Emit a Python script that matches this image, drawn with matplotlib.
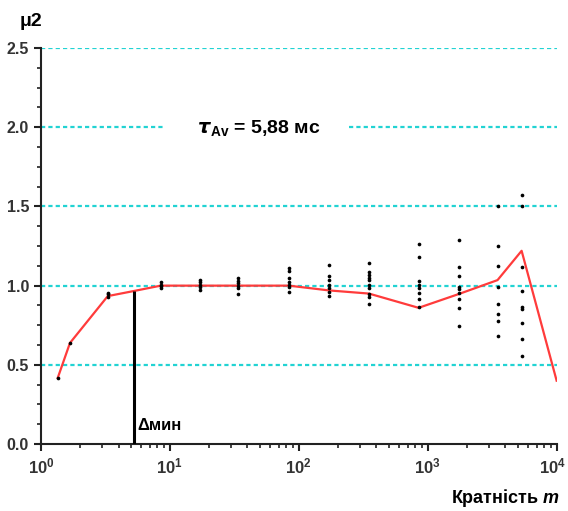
import numpy as np
import matplotlib
matplotlib.use("Agg")
import matplotlib.pyplot as plt
import matplotlib.transforms as mtransforms
from matplotlib.ticker import FixedLocator, LogLocator, NullFormatter, FuncFormatter

plt.rcParams['font.family'] = ['Liberation Sans', 'DejaVu Sans']
plt.rcParams['mathtext.fontset'] = 'custom'
plt.rcParams['mathtext.rm'] = 'Liberation Sans'
plt.rcParams['mathtext.it'] = 'Liberation Sans:italic:bold'
plt.rcParams['mathtext.bf'] = 'Liberation Sans:bold'

# mean curve (red)
m_line = [1.35, 1.68, 3.3, 5.25, 8.5, 17, 34, 84, 171, 350, 850, 1740, 3480, 5350, 10000]
mu_line = [0.417, 0.638, 0.934, 0.966, 1.0, 1.0, 1.0, 1.0, 0.97, 0.95, 0.86, 0.947, 1.035, 1.22, 0.40]

# individual estimates (black dots)
m_pts = [1.35, 1.68, 3.3, 8.5, 17, 34, 84, 171, 350, 850, 1740, 3480, 5350]
mu_pts = [
    [0.42],
    [0.64],
    [0.93, 0.945, 0.953],
    [0.983, 0.995, 1.005, 1.02],
    [0.972, 0.99, 1.005, 1.02, 1.035],
    [0.947, 0.985, 1.0, 1.015, 1.03, 1.048],
    [0.961, 0.989, 1.004, 1.025, 1.046, 1.094, 1.109],
    [0.936, 0.962, 0.983, 1.004, 1.035, 1.061, 1.130],
    [0.882, 0.930, 0.947, 0.983, 1.004, 1.035, 1.046, 1.067, 1.088, 1.145],
    [0.867, 0.915, 0.951, 0.983, 1.004, 1.029, 1.183, 1.261],
    [0.747, 0.861, 0.915, 0.951, 0.977, 0.993, 1.061, 1.116, 1.288],
    [0.684, 0.777, 0.821, 0.884, 0.993, 1.124, 1.25, 1.504],
    [0.556, 0.661, 0.762, 0.850, 0.867, 0.966, 1.119, 1.504, 1.572],
]

m_min = 5.25
mu_min = 0.966
grid_levels = [0.5, 1.0, 1.5, 2.0, 2.5]

fig = plt.figure(figsize=(5.68, 5.11), dpi=100)
ax = fig.add_axes([0.072, 0.131, 0.908, 0.775])

for lv in grid_levels:
    ax.axhline(lv, color='#22d3d3', lw=1.6, ls=(0, (1.9, 1.4)), zorder=1)

ax.plot(m_line, mu_line, color='#ff3b3b', lw=1.6, zorder=3)
for m, vals in zip(m_pts, mu_pts):
    ax.scatter([m] * len(vals), vals, s=7, color='black', zorder=4, linewidths=0)

ax.vlines(m_min, 0, mu_min, color='black', lw=2.2, zorder=5)

ax.set_xscale('log')
ax.set_xlim(1, 1e4)
ax.set_ylim(0, 2.5)

for s in ['top', 'right']:
    ax.spines[s].set_visible(False)
for s in ['left', 'bottom']:
    ax.spines[s].set_linewidth(1.5)
    ax.spines[s].set_color('#222222')

ax.yaxis.set_major_locator(FixedLocator([0, 0.5, 1.0, 1.5, 2.0, 2.5]))
ax.yaxis.set_minor_locator(FixedLocator(np.arange(0, 2.51, 0.125)))
ax.yaxis.set_major_formatter(FuncFormatter(lambda v, p: f'{v:.1f}'))
ax.xaxis.set_major_locator(FixedLocator([1, 10, 100, 1000, 10000]))
ax.xaxis.set_minor_locator(LogLocator(base=10, subs=np.arange(2, 10), numticks=10))
ax.xaxis.set_minor_formatter(NullFormatter())
ax.xaxis.set_major_formatter(FuncFormatter(lambda v, p: r'$\mathbf{10^{%d}}$' % round(np.log10(v))))
ax.tick_params(axis='both', which='major', length=5, width=1.5, color='#222222',
               labelcolor='#333333')
ax.tick_params(axis='y', which='major', labelsize=11.5)
ax.tick_params(axis='x', which='major', labelsize=12, pad=4)
ax.tick_params(axis='both', which='minor', length=3, width=1.2, color='#222222')
for lab in ax.get_yticklabels():
    lab.set_fontweight('bold')

# keep the last decade label inside the canvas
fig.canvas.draw()
last = ax.get_xticklabels()[-1]
last.set_transform(last.get_transform() + mtransforms.ScaledTranslation(-3 / 72, 0, fig.dpi_scale_trans))

ax.text(47, 1.995, r'    $\boldsymbol{\tau}_{\mathbf{Av}}$ = 5,88 мс    ', ha='center', va='center',
        fontsize=14, fontweight='bold',
        bbox=dict(facecolor='white', edgecolor='none', boxstyle='square,pad=0.6'), zorder=6)
ax.text(5.6, 0.12, 'Δмин', ha='left', va='center', fontsize=12, fontweight='bold', zorder=6)

fig.text(0.035, 0.958, 'μ2', fontsize=14, fontweight='bold', ha='left', va='center')
fig.text(0.985, 0.025, r'Кратність $\mathit{m}$', fontsize=13, fontweight='bold',
         ha='right', va='center')

fig.savefig('out.png', dpi=100)
